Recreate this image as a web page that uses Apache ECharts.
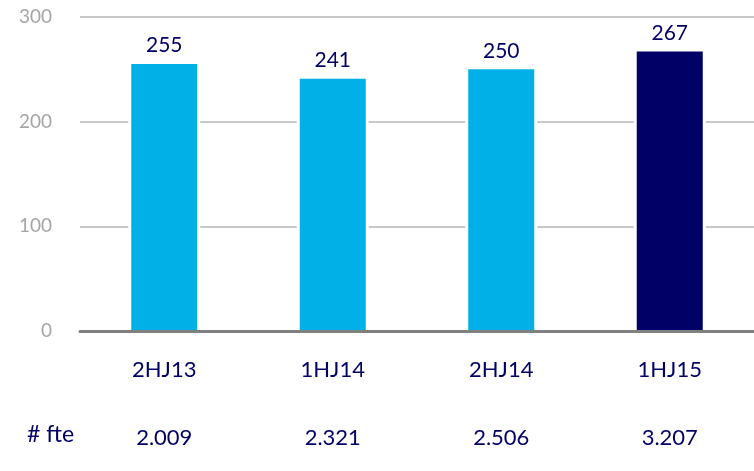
<!DOCTYPE html>
<html>
<head>
<meta charset="utf-8">
<script src="https://cdn.jsdelivr.net/npm/echarts@6/dist/echarts.min.js"></script>
<style>
  html, body { margin: 0; padding: 0; background: #fff; }
  #chart { width: 754px; height: 471px; }
</style>
</head>
<body>
<div id="chart"></div>
<script>
// Half-year periods, values per period and headcount (fte) per period
const categories = ['2HJ13', '1HJ14', '2HJ14', '1HJ15'];
const values = [255, 241, 250, 267];
const fteLabels = ['2.009', '2.321', '2.506', '3.207'];
const yTicks = [0, 100, 200, 300];

const LIGHT = '#00B0E6';
const NAVY = '#000066';
const FONT = 'Lato, "Open Sans", sans-serif';

const chart = echarts.init(document.getElementById('chart'), null, { renderer: 'canvas' });

chart.setOption({
  animation: false,
  backgroundColor: '#fff',
  grid: { left: 80, right: -6, top: 17, bottom: 140, containLabel: false },
  graphic: [{
    type: 'text',
    left: 27,
    top: 423,
    style: { text: '# fte', fill: NAVY, font: '23px ' + FONT }
  }],
  xAxis: [{
    // period axis with the baseline
    type: 'category',
    data: categories,
    z: 10,
    axisLine: { show: true, lineStyle: { color: '#808080', width: 3 } },
    axisTick: { show: false },
    axisLabel: { color: NAVY, fontSize: 22, fontFamily: FONT, margin: 28 }
  }, {
    // fte row underneath
    type: 'category',
    data: fteLabels,
    position: 'bottom',
    offset: 70,
    axisLine: { show: false },
    axisTick: { show: false },
    axisLabel: { color: NAVY, fontSize: 22, fontFamily: FONT, margin: 26 }
  }, {
    // hidden twin axis carrying the white halo bars
    type: 'category',
    data: categories,
    show: false
  }],
  yAxis: {
    type: 'value',
    min: yTicks[0],
    max: yTicks[yTicks.length - 1],
    interval: yTicks[1] - yTicks[0],
    axisLine: { show: false },
    axisTick: { show: false },
    axisLabel: { color: '#a6a6a6', fontSize: 19, fontFamily: FONT, margin: 28 },
    splitLine: { show: true, lineStyle: { color: '#c8c8c8', width: 2 } }
  },
  series: [{
    // white halo that breaks the gridlines beside each bar
    type: 'bar',
    xAxisIndex: 2,
    barWidth: 72,
    z: 2,
    silent: true,
    data: values,
    itemStyle: { color: '#fff' }
  }, {
    type: 'bar',
    xAxisIndex: 0,
    barWidth: 66,
    z: 3,
    data: values.map((v, i) => ({
      value: v,
      itemStyle: { color: i === values.length - 1 ? NAVY : LIGHT }
    })),
    label: {
      show: true,
      position: 'top',
      distance: 8,
      color: NAVY,
      fontSize: 21,
      fontFamily: FONT
    }
  }]
});
</script>
</body>
</html>
